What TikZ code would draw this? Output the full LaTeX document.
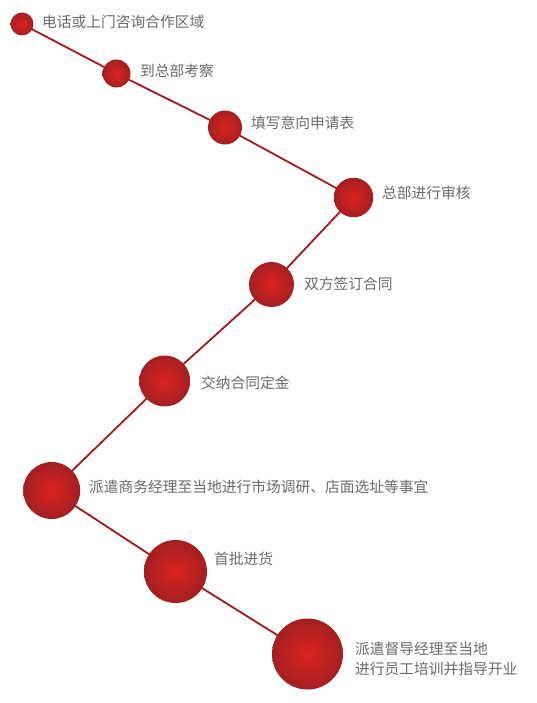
\documentclass[tikz,border=0pt]{standalone}
\usepackage{fontspec}
\setmainfont{Noto Sans CJK SC}
\begin{document}
\begin{tikzpicture}[x=1pt,y=-1pt,
  ball/.style={circle,minimum size=#1,inner sep=0pt,shading=radial,inner color=ballin,outer color=ballout},
  lab/.style={anchor=west,inner sep=0pt,text=labgray,font=\fontsize{14.75pt}{20pt}\selectfont,align=left},
  conn/.style={draw=linered,line width=1.8pt}]
\definecolor{ballin}{HTML}{DC2420}
\definecolor{ballout}{HTML}{A41F21}
\definecolor{labgray}{HTML}{6A6A6A}
\definecolor{linered}{HTML}{A3191C}
\useasboundingbox (0,0) rectangle (536,703);
\coordinate (c1) at (22,24);
\coordinate (c2) at (116.5,73.5);
\coordinate (c3) at (225,127.5);
\coordinate (c4) at (353.5,197.5);
\coordinate (c5) at (271.5,284.5);
\coordinate (c6) at (164.7,381);
\coordinate (c7) at (51.7,490.5);
\coordinate (c8) at (175.5,571.5);
\coordinate (c9) at (307.5,654);
\draw[conn] (c1) -- (c2) -- (c3) -- (c4) -- (c5) -- (c6) -- (c7) -- (c8) -- (c9);
\node[ball=23pt] (b1) at (c1) {};
\node[ball=28pt] (b2) at (c2) {};
\node[ball=34pt] (b3) at (c3) {};
\node[ball=39.5pt] (b4) at (c4) {};
\node[ball=45pt] (b5) at (c5) {};
\node[ball=51pt] (b6) at (c6) {};
\node[ball=57pt] (b7) at (c7) {};
\node[ball=63pt] (b8) at (c8) {};
\node[ball=71pt] (b9) at (c9) {};
\node[lab] (t1) at (42,22) {电话或上门咨询合作区域};
\node[lab] (t2) at (140,71) {到总部考察};
\node[lab] (t3) at (251,123) {填写意向申请表};
\node[lab] (t4) at (382,193) {总部进行审核};
\node[lab] (t5) at (304,284) {双方签订合同};
\node[lab] (t6) at (201,383) {交纳合同定金};
\node[lab] (t7) at (89,487) {派遣商务经理至当地进行市场调研、店面选址等事宜};
\node[lab] (t8) at (214,559) {首批进货};
\node[lab] (t9) at (355,658.5) {派遣督导经理至当地\\进行员工培训并指导开业};
\end{tikzpicture}
\end{document}
